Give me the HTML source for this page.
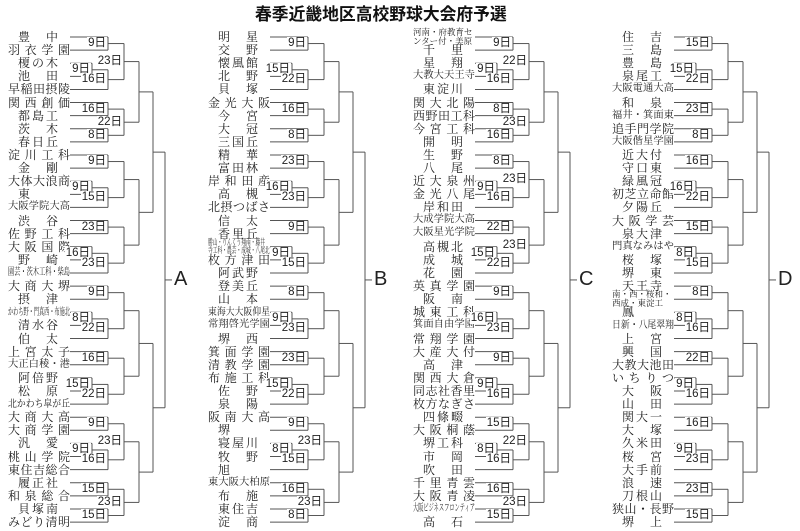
<!DOCTYPE html>
<html><head><meta charset="utf-8">
<style>
html,body{margin:0;padding:0;background:#fff;}
#c{position:relative;width:800px;height:531px;overflow:hidden;background:#fff;}
svg{position:absolute;left:0;top:0;}
.t{position:absolute;display:flex;justify-content:space-between;align-items:center;height:13px;font-family:"Liberation Serif","Noto Serif CJK SC",serif;color:#222;white-space:nowrap;line-height:1;}
.t3{position:absolute;height:13px;line-height:13px;font-family:"Liberation Serif","Noto Serif CJK SC",serif;color:#222;white-space:nowrap;font-size:10px;transform-origin:0 50%;}
.t2{position:absolute;font-family:"Liberation Serif","Noto Serif CJK SC",serif;color:#222;font-size:8.5px;line-height:8.5px;white-space:nowrap;transform-origin:0 0;}
.lb{position:absolute;font-family:"Liberation Sans","Noto Sans CJK JP",sans-serif;font-size:11.5px;line-height:12px;color:#222;background:#fff;padding:0 1px;text-align:right;white-space:nowrap;}
.L{position:absolute;font-family:"Liberation Sans",sans-serif;font-size:20px;color:#222;}
.title{position:absolute;left:255px;top:1px;font-family:"Liberation Sans","Noto Sans CJK JP",sans-serif;font-weight:bold;font-size:16.8px;color:#111;white-space:nowrap;}
</style></head><body>
<div id="c">
<div class="title">春季近畿地区高校野球大会府予選</div>
<svg id="s" width="800" height="531"></svg>
</div>
<script>
const cols=[
{ox:0,L:'A',slots:['豊中','羽衣学園',['榎の木','池田'],'早稲田摂陵','関西創価','都島工','茨木','春日丘','淀川工科','金剛',['大体大浪商','東'],'大阪学院大高','渋谷','佐野工科',['大阪国際','野崎'],'園芸・茨木工科・柴島','大商大堺','摂津',['かわち野・門真西・布施北','清水谷'],'伯太','上宮太子','大正白稜・港',['阿倍野','松原'],'北かわち皐が丘','大商大高','大商学園',['汎愛','桃山学院'],'東住吉総合','履正社','和泉総合','貝塚南','みどり清明'],
play:['9日','9日','16日','8日','15日','9日'],
d4:['9日','16日','16日','8日','9日','15日','23日','23日','9日','22日','16日','22日','9日','16日','15日','15日'],
d3:['23日','22日','','','','','23日','23日']},
{ox:200,L:'B',slots:['明星','交野',['懐風館','北野'],'貝塚','金光大阪','今宮','大冠','三国丘','精華','富田林',['岸和田産','高槻'],'北摂つばさ','信太','香里丘',['勝山・りんくう翔南・藤井|寺工科・農芸・成城・八尾北','枚方津田'],'阿武野','登美丘','山本',['東海大大阪仰星','常翔啓光学園'],'堺西','箕面学園','清教学園',['布施工科','佐野'],'泉陽','阪南大高','堺',['寝屋川','牧野'],'旭','東大阪大柏原','布施','東住吉','淀商'],
play:['15日','16日','9日','9日','15日','8日'],
d4:['9日','22日','16日','8日','23日','23日','9日','15日','8日','23日','23日','22日','9日','15日','16日','8日'],
d3:['','','','','','','23日','23日']},
{ox:405,L:'C',slots:['河南・府教育セ|ンター付・美原','千里',['星翔','大教大天王寺'],'東淀川','関大北陽','西野田工科','今宮工科','開明','生野','八尾',['近大泉州','金光八尾'],'岸和田','大成学院大高','大阪星光学院',['高槻北','成城'],'花園','英真学園','阪南',['城東工科','箕面自由学園'],'常翔学園','大産大付','高津',['関西大倉','同志社香里'],'枚方なぎさ','四條畷','大阪桐蔭',['堺工科','市岡'],'吹田','千里青雲','大阪青凌','大阪ビジネスフロンティア','高石'],
play:['9日','9日','15日','16日','9日','8日'],
d4:['9日','16日','8日','16日','8日','16日','22日','22日','9日','23日','9日','16日','15日','16日','16日','15日'],
d3:['22日','23日','23日','23日','','','22日','23日']},
{ox:604,L:'D',slots:['住吉','三島',['豊島','泉尾工'],'大阪電通大高','和泉','福井・箕面東','追手門学院','大阪偕星学園','近大付','守口東',['緑風冠','初芝立命館'],'夕陽丘','大阪学芸','泉大津',['門真なみはや','桜塚'],'堺東','天王寺','南・西・桜和・|西成・東淀工',['鳳','日新・八尾翠翔'],'上宮','興国','大教大池田',['いちりつ','大阪'],'山田','関大一','大塚',['久米田','桜宮'],'大手前','浪速','刀根山','狭山・長野','堺上'],
play:['15日','16日','8日','8日','9日','9日'],
d4:['15日','22日','23日','8日','16日','22日','15日','15日','8日','16日','22日','16日','16日','23日','23日','15日'],
d3:['','','','','','','','']}
];
const c=document.getElementById('c'),s=document.getElementById('s');
let svg='';
function ln(x1,y1,x2,y2){svg+=`<line x1="${x1}" y1="${y1}" x2="${x2}" y2="${y2}" stroke="#555" stroke-width="1"/>`;}
function lab(t,x,y){if(!t)return;const d=document.createElement('div');d.className='lb';d.textContent=t;d.style.right=(800-x+1)+'px';d.style.top=(y-6.5)+'px';c.appendChild(d);}
function fit(d,w){const ow=d.scrollWidth;if(ow>w)d.style.transform='scaleX('+(w/ow)+')';}
function team(name,ox,y){
  if(name.includes('|')){const d=document.createElement('div');d.className='t2';d.innerHTML=name.split('|').join('<br>');d.style.left=(ox+8)+'px';d.style.top=(y-9)+'px';c.appendChild(d);fit(d,62);return;}
  const n=[...name].length;
  if(n>6){const d=document.createElement('div');d.className='t3';d.textContent=name;d.style.left=(ox+8)+'px';d.style.top=(y-6.5)+'px';c.appendChild(d);fit(d,62);return;}
  const d=document.createElement('div');d.className='t';
  let left=ox+8,w=62,fs=12;
  if(n<=3){left=ox+18;w=40;}
  else if(n==6){fs=10.3;}
  d.style.left=left+'px';d.style.width=w+'px';d.style.top=(y-6.5)+'px';d.style.fontSize=fs+'px';
  for(const ch of name){const sp=document.createElement('span');sp.textContent=ch;d.appendChild(sp);}
  c.appendChild(d);
}
const Y=i=>37+i*13.11;
for(const col of cols){
  const o=col.ox,PX=o+92,X4=o+108,X3=o+124,X2=o+139,X1=o+153,X0=o+165,TE=o+70;
  let r=0,pi=0;const sy=[];
  for(const sl of col.slots){
    if(Array.isArray(sl)){
      const a=Y(r),b=Y(r+1);team(sl[0],o,a);team(sl[1],o,b);
      ln(TE,a,PX,a);ln(TE,b,PX,b);ln(PX,a,PX,b);
      const m=(a+b)/2;lab(col.play[pi++],PX,m);ln(PX,m,X4,m);sy.push(m);r+=2;
    }else{const a=Y(r);team(sl,o,a);ln(TE,a,X4,a);sy.push(a);r++;}
  }
  function level(arr,X,NX,labels){const out=[];for(let k=0;k<arr.length;k+=2){const a=arr[k],b=arr[k+1];ln(X,a,X,b);const m=(a+b)/2;if(labels)lab(labels[k/2],X,m);ln(X,m,NX,m);out.push(m);}return out;}
  const m4=level(sy,X4,X3,col.d4);
  const m3=level(m4,X3,X2,col.d3);
  const m2=level(m3,X2,X1,null);
  const m1=level(m2,X1,X0,null);
  const a=m1[0],b=m1[1];ln(X0,a,X0,b);const m=(a+b)/2;ln(X0,m,X0+7,m);
  const L=document.createElement('div');L.className='L';L.textContent=col.L;L.style.left=(X0+9)+'px';L.style.top=(m-12)+'px';c.appendChild(L);
}
s.innerHTML=svg;
</script>
</body></html>
